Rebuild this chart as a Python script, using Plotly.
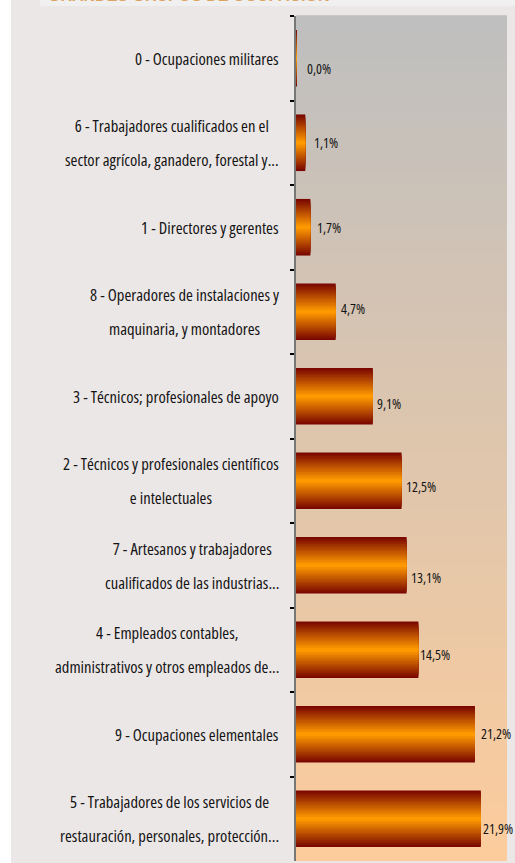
import plotly.graph_objects as go

# ---- data ----
categories = [
    "0 - Ocupaciones militares",
    "6 - Trabajadores cualificados en el<br>sector agrícola, ganadero, forestal y...",
    "1 - Directores y gerentes",
    "8 - Operadores de instalaciones y<br>maquinaria, y montadores",
    "3 - Técnicos; profesionales de apoyo",
    "2 - Técnicos y profesionales científicos<br>e intelectuales",
    "7 - Artesanos y trabajadores<br>cualificados de las industrias...",
    "4 - Empleados contables,<br>administrativos y otros empleados de...",
    "9 - Ocupaciones elementales",
    "5 - Trabajadores de los servicios de<br>restauración, personales, protección...",
]
values = [0.04, 1.1, 1.7, 4.7, 9.1, 12.5, 13.1, 14.5, 21.2, 21.9]
title_text = "GRANDES GRUPOS DE OCUPACIÓN"

# ---- geometry / style ----
W, H = 515, 863
L, R, T, B = 296, 8, 16, 2
PW, PH = W - L - R, H - T - B

def px_x(px):
    return (px - L) / PW

def px_y(py):
    return (H - B - py) / PH

def lerp(c1, c2, t):
    return "rgb(%d,%d,%d)" % tuple(round(a + (b - a) * t) for a, b in zip(c1, c2))

def cond(s, size):
    return f'<span style="font-size:{size}px;font-stretch:condensed">{s}</span>'

FONT = "Open Sans, Liberation Sans, sans-serif"
fig = go.Figure()

# gradient bars: overlaid layers, outer dark red -> centre orange
dark = (122, 8, 0)
orange = (255, 153, 0)
N = 16
bar_w = 0.67
for i in range(N):
    frac = 1 - i / N
    t = i / (N - 1)
    fig.add_trace(go.Bar(
        x=values, y=categories, orientation="h",
        width=[bar_w * frac] * len(values),
        marker=dict(color=lerp(dark, orange, t), line=dict(width=0)),
        hoverinfo="skip" if i else "x+y",
        showlegend=False,
    ))

# background gradient of plot area (grey top -> peach bottom)
top_c = (191, 191, 191)
bot_c = (252, 204, 156)
NS = 60
shapes = []
for k in range(NS):
    shapes.append(dict(
        type="rect", xref="x domain", yref="y domain",
        x0=0, x1=1, y0=1 - (k + 1) / NS, y1=1 - k / NS + 0.001,
        fillcolor=lerp(top_c, bot_c, k / (NS - 1)), line=dict(width=0), layer="below",
    ))
shapes.append(dict(type="rect", xref="paper", yref="paper",
                   x0=px_x(0), x1=px_x(11), y0=px_y(H), y1=px_y(0),
                   fillcolor="#ffffff", line=dict(width=0), layer="below"))
shapes.append(dict(type="rect", xref="paper", yref="paper",
                   x0=px_x(40), x1=px_x(W), y0=px_y(6), y1=px_y(0),
                   fillcolor="#f0f0f0", line=dict(width=0), layer="below"))

annotations = []
# category labels (centred lines, block right-aligned next to the axis)
for c in categories:
    txt = "<br>".join(cond(ln, 16.6) for ln in c.split("<br>"))
    annotations.append(dict(
        x=px_x(281), xref="paper", y=c, yref="y",
        xanchor="right", yanchor="middle", align="center",
        text=txt, showarrow=False,
        font=dict(family=FONT, size=26, color="#141414"),
    ))

# value labels just past the bar ends
label_dx = [9, 7, 5, 3, 2, 2, 2, 0, 4, 0]
label_dy = [10, 0, 0, -3, 7, 6, 12, 5, -1, 10]
for c, v, dx, dy in zip(categories, values, label_dx, label_dy):
    annotations.append(dict(
        x=v, xref="x", y=c, yref="y", xanchor="left", yanchor="middle",
        xshift=dx, yshift=-dy,
        text=cond(f"{v:.1f}".replace(".", ",") + "%", 14), showarrow=False,
        font=dict(family=FONT, size=14, color="#141414"),
    ))

# title, mostly cut off above the top edge
annotations.append(dict(
    x=px_x(46), xref="paper", y=px_y(6.5), yref="paper",
    xanchor="left", yanchor="bottom", text=f"<b>{title_text}</b>",
    showarrow=False, font=dict(family="Liberation Sans, Arial, sans-serif", size=16, color="#dca462"),
))

fig.update_layout(
    width=W, height=H,
    margin=dict(l=L, r=R, t=T, b=B, pad=0),
    paper_bgcolor="#ece7e7", plot_bgcolor="rgba(0,0,0,0)",
    barmode="overlay", separators=",.",
    shapes=shapes, annotations=annotations,
    xaxis=dict(range=[0, 25], visible=False, fixedrange=True),
    yaxis=dict(
        categoryorder="array", categoryarray=categories, autorange="reversed",
        showticklabels=False, showgrid=False, zeroline=False, fixedrange=True,
        showline=True, linecolor="#777777", linewidth=1.5,
        ticks="outside", tickson="boundaries", ticklen=4, tickwidth=1.5, tickcolor="#000000",
    ),
)

fig.write_html("out.html", config={"displayModeBar": False},
               post_script="document.body.style.margin='0';")
